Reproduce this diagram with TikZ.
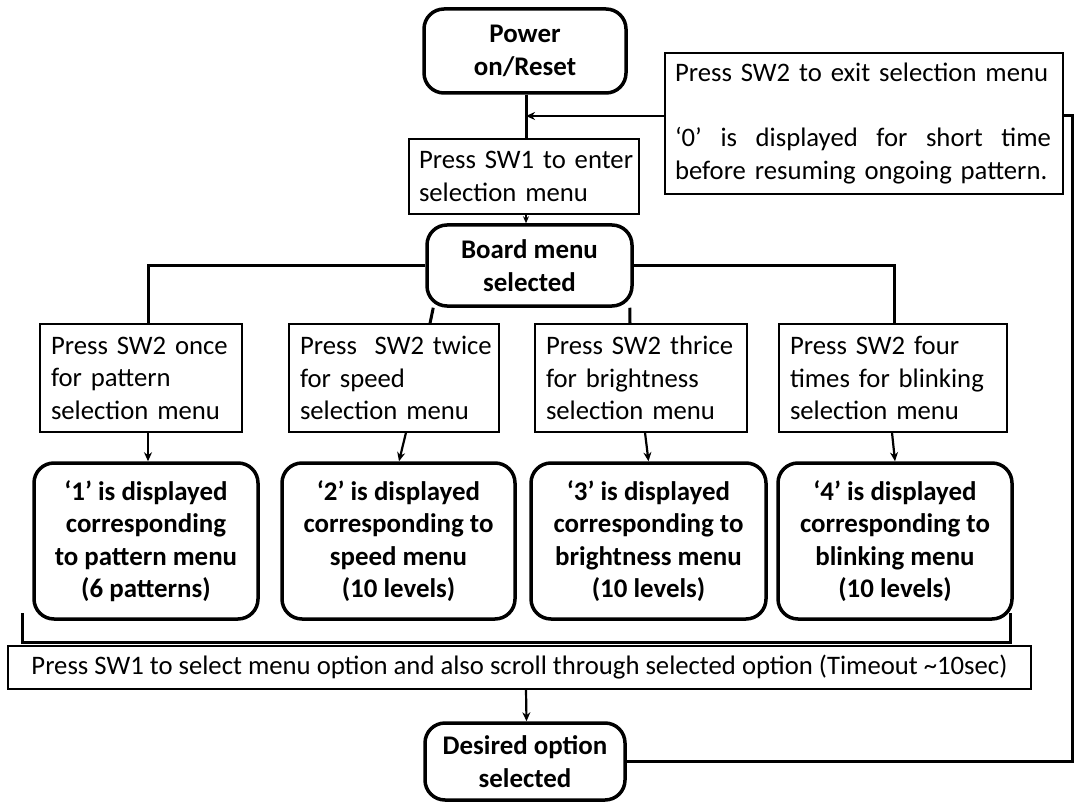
\documentclass[tikz,border=0pt]{standalone}
\usepackage{fontspec}
\setmainfont{Carlito}
\usetikzlibrary{arrows.meta}
\begin{document}
\begin{tikzpicture}[x=1pt,y=-1pt,
  base/.style={font=\fontsize{26.7}{32.5}\selectfont, inner sep=0pt, align=center},
  thinbox/.style={base, draw, line width=1.2pt, align=left},
  roundbox/.style={base, draw, line width=3.5pt, rounded corners=20pt, font=\fontsize{26.9}{32.5}\selectfont\bfseries},
  conn/.style={line width=3pt},
  arr/.style={line width=2.2pt, -{Stealth[length=9pt,width=8pt]}}]
\useasboundingbox (0,0) rectangle (1075,802);

% nodes
\node[roundbox, minimum width=202pt, minimum height=84pt] (power) at (525,51) {Power\\on/Reset};
\node[thinbox, minimum width=398pt, minimum height=141pt, text width=378pt] (exit) at (864,123.5)
  {\mbox{Press SW2 to exit selection menu}\\[32.5pt]\makebox[376pt][l]{‘0’\hfill is\hfill displayed\hfill for\hfill short\hfill time}\\\mbox{before resuming ongoing pattern.}};
\node[thinbox, minimum width=230pt, minimum height=75pt, text width=210pt] (sw1) at (524,176.5) {\mbox{Press SW1 to enter}\\\mbox{selection menu}};
\node[roundbox, minimum width=205pt, minimum height=81pt] (board) at (529.5,265.5) {Board menu\\selected};

\node[thinbox, minimum width=202pt, minimum height=108pt, text width=180pt] (t1) at (141,378) {\mbox{Press SW2 once}\\\mbox{for pattern}\\\mbox{selection menu}};
\node[thinbox, minimum width=210pt, minimum height=108pt, text width=188pt] (t2) at (394,378) {\mbox{Press\ \ SW2 twice}\\\mbox{for speed}\\\mbox{selection menu}};
\node[thinbox, minimum width=212pt, minimum height=108pt, text width=190pt] (t3) at (641,378) {\mbox{Press SW2 thrice}\\\mbox{for brightness}\\\mbox{selection menu}};
\node[thinbox, minimum width=228pt, minimum height=108pt, text width=206pt] (t4) at (893,378) {\mbox{Press SW2 four}\\\mbox{times for blinking}\\\mbox{selection menu}};

\node[roundbox, minimum width=224pt, minimum height=156pt] (r1) at (146,541) {‘1’ is displayed\\corresponding\\to pattern menu\\(6 patterns)};
\node[roundbox, minimum width=233pt, minimum height=156pt] (r2) at (398.5,541) {‘2’ is displayed\\corresponding to\\speed menu\\(10 levels)};
\node[roundbox, minimum width=235pt, minimum height=156pt] (r3) at (648.5,541) {‘3’ is displayed\\corresponding to\\brightness menu\\(10 levels)};
\node[roundbox, minimum width=234pt, minimum height=156pt] (r4) at (895,541) {‘4’ is displayed\\corresponding to\\blinking menu\\(10 levels)};

\node[thinbox, minimum width=1023pt, minimum height=43pt, align=center] (long) at (519.5,667.5) {Press SW1 to select menu option and also scroll through selected option (Timeout \textasciitilde10sec)};
\node[roundbox, minimum width=200pt, minimum height=77pt] (desired) at (525,761.5) {Desired option\\selected};

\coordinate (j) at (526,116);
\coordinate (rc) at (1072,116);
\coordinate (bl) at (22,613);
\coordinate (br) at (1010,613);

% connectors
\draw[conn] (power.south -| j) -- (sw1.north -| j);
\draw[arr] (exit.west |- j) -- (j);
\draw[arr, line width=1.5pt, -{Stealth[length=7pt,width=6pt]}] (sw1.south -| j) -- ([xshift=-3.5pt]board.north);
\draw[conn] (board.west) -| ([xshift=7pt]t1.north);
\draw[conn] (board.east) -| ([xshift=1pt]t4.north);
\draw[conn] ([xshift=8pt]board.south west) -- ([xshift=36pt]t2.north);
\draw[conn] ([xshift=-4pt]board.south east) -- ([xshift=-11pt]t3.north);

\draw[arr] ([xshift=7pt]t1.south) -- ([xshift=2pt]r1.north);
\draw[arr] ([xshift=12pt]t2.south) -- ([xshift=0.5pt]r2.north);
\draw[arr] ([xshift=4pt]t3.south) -- (r3.north);
\draw[arr] ([xshift=-1pt]t4.south) -- (r4.north);

\draw[conn] (bl) -- (bl |- 0,642) -- (br |- 0,642) -- (br);
\draw[arr] ([xshift=6.5pt]long.south) -- ([xshift=1.5pt]desired.north);

\draw[conn] (desired.east) -| (rc) -- (exit.east |- rc);
\end{tikzpicture}
\end{document}
